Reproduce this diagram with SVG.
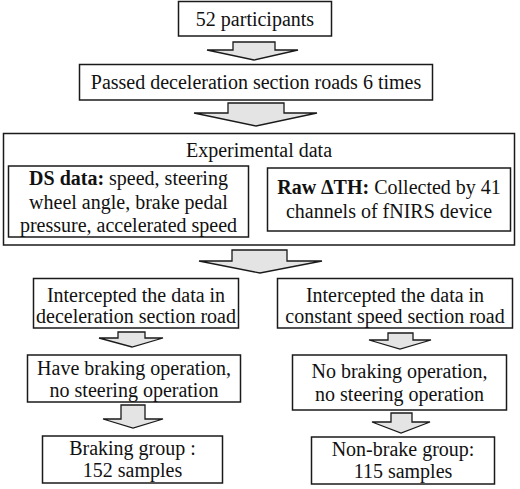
<svg xmlns="http://www.w3.org/2000/svg" width="520" height="489" viewBox="0 0 520 489" font-family="Liberation Serif, DejaVu Serif, Times New Roman, Times, serif">
<style>
.box{fill:#fff;stroke:#1a1a1a;stroke-width:1.5}
.arr{fill:#e4e4e4;stroke:#1a1a1a;stroke-width:1.3;stroke-linejoin:miter}
text{font-family:'Liberation Serif','DejaVu Serif','Times New Roman',Times,serif;font-size:20px;fill:#111;text-anchor:middle}
.b{font-weight:bold}
</style>
<rect width="520" height="489" fill="#fff"/>
<g id="connectors">
<polygon class="arr" points="233,42 275,42 275,50 298,50 254,60 207,50 233,50"/>
<polygon class="arr" points="228,103 284,103 284,113 317,113 256,126 194,113 228,113"/>
<polygon class="arr" points="232,250 287,250 287,261 322,261 260,273 199,261 232,261"/>
<polygon class="arr" points="118,332 145,332 145,338 163,338 132,347 99,338 118,338"/>
<polygon class="arr" points="388,333 413,333 413,340 431,340 400,349 369,340 388,340"/>
<polygon class="arr" points="121,405 145,405 145,419 163,419 133,428 103,419 121,419"/>
<polygon class="arr" points="391,413 412,413 412,422 430,422 401,433 372,422 391,422"/>
</g>
<g id="n1"><rect class="box" x="178.5" y="1.5" width="153" height="34.5"/><text x="255" y="26">52 participants</text></g>
<g id="n2"><rect class="box" x="79.5" y="64.5" width="353" height="35.5"/><text x="256" y="89">Passed deceleration section roads 6 times</text></g>
<g id="n3"><rect class="box" x="3.5" y="133.5" width="511" height="111.5"/><text x="259" y="157">Experimental data</text></g>
<g id="n3a"><rect class="box" x="8.5" y="166" width="240" height="71"/>
<text x="128.5" y="185"><tspan class="b">DS data:</tspan> speed, steering</text>
<text x="128.5" y="209">wheel angle, brake pedal</text>
<text x="128.5" y="232">pressure, accelerated speed</text></g>
<g id="n3b"><rect class="box" x="267.5" y="168" width="243" height="63"/>
<text x="389" y="194"><tspan class="b">Raw ΔTH:</tspan> Collected by 41</text>
<text x="389" y="218">channels of fNIRS device</text></g>
<g id="n4a"><rect class="box" x="33.5" y="278.5" width="205" height="49.5"/>
<text x="136" y="302">Intercepted the data in</text>
<text x="136" y="323">deceleration section road</text></g>
<g id="n4b"><rect class="box" x="277.5" y="278.5" width="235" height="49.5"/>
<text x="395" y="302">Intercepted the data in</text>
<text x="395" y="323">constant speed section road</text></g>
<g id="n5a"><rect class="box" x="27.5" y="355" width="213" height="47"/>
<text x="134" y="375">Have braking operation,</text>
<text x="134" y="397">no steering operation</text></g>
<g id="n5b"><rect class="box" x="292.5" y="355" width="214" height="55"/>
<text x="399.5" y="378">No braking operation,</text>
<text x="399.5" y="401">no steering operation</text></g>
<g id="n6a"><rect class="box" x="42.5" y="436" width="180" height="47"/>
<text x="132.5" y="455">Braking group :</text>
<text x="132.5" y="477">152 samples</text></g>
<g id="n6b"><rect class="box" x="311.5" y="437" width="183" height="47"/>
<text x="403" y="456">Non-brake group:</text>
<text x="403" y="478">115 samples</text></g>
</svg>
